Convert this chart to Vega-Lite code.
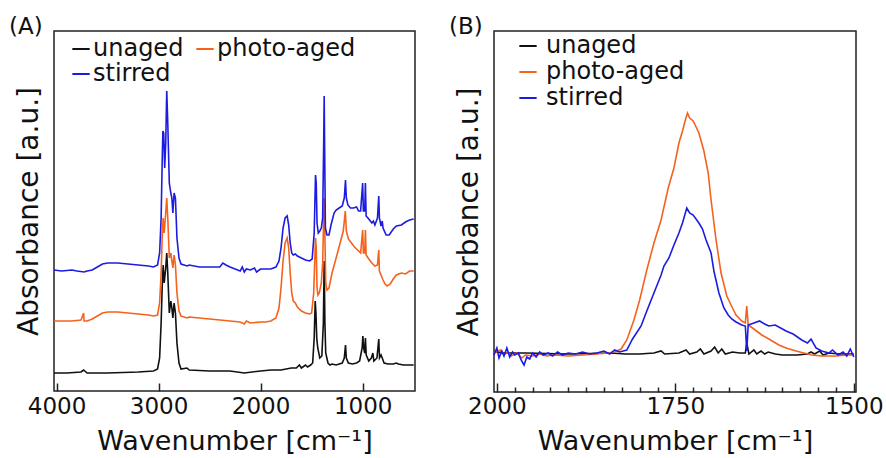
{
  "$schema": "https://vega.github.io/schema/vega-lite/v6.json",
  "padding": {"left": 8, "top": 15, "right": 5, "bottom": 0},
  "spacing": 30,
  "config": {
    "font": "DejaVu Sans",
    "view": {"stroke": "#222", "strokeWidth": 1.5},
    "axis": {"grid": false, "domain": false, "labelColor": "#111", "titleColor": "#111", "titleFontWeight": "normal", "tickColor": "#222"},
    "title": {"fontWeight": "normal", "color": "#111"},
    "legend": {"labelColor": "#111"}
  },
  "resolve": {"scale": {"color": "independent", "x": "independent", "y": "independent"}, "legend": {"color": "independent"}},
  "hconcat": [
    {
      "title": {"text": "(A)", "anchor": "start", "frame": "group", "dx": -45, "offset": -26, "baseline": "alphabetic", "fontSize": 23},
      "width": 361, "height": 360,
      "data": {"name": "A"},
      "mark": {"type": "line", "strokeWidth": 1.6},
      "encoding": {
        "x": {"field": "w", "type": "quantitative", "scale": {"domain": [487, 4025], "reverse": true, "nice": false, "zero": false},
          "axis": {"values": [4000, 3000, 2000, 1000], "format": "d", "tickSize": -8, "tickWidth": 1.5, "labelFontSize": 23, "labelPadding": 12, "title": "Wavenumber [cm⁻¹]", "titleFontSize": 27, "titlePadding": 10}},
        "y": {"field": "a", "type": "quantitative", "scale": {"domain": [0, 360], "nice": false, "zero": false},
          "axis": {"labels": false, "ticks": false, "title": "Absorbance [a.u.]", "titleFontSize": 28, "titlePadding": 11}},
        "color": {"field": "s", "type": "nominal", "sort": null,
          "scale": {"domain": ["unaged", "photo-aged", "stirred"], "range": ["#111111", "#f5621e", "#1c1ce0"]},
          "legend": {"orient": "none", "direction": "horizontal", "legendX": 15, "legendY": 6, "columns": 2, "title": null, "symbolType": "stroke", "symbolSize": 300, "symbolStrokeWidth": 2, "labelFontSize": 24, "labelOffset": 0, "columnPadding": 8, "rowPadding": 1, "labelLimit": 300}}
      }
    },
    {
      "title": {"text": "(B)", "anchor": "start", "frame": "group", "dx": -45, "offset": -26, "baseline": "alphabetic", "fontSize": 23},
      "width": 362, "height": 361,
      "data": {"name": "B"},
      "mark": {"type": "line", "strokeWidth": 1.6},
      "encoding": {
        "x": {"field": "w", "type": "quantitative", "scale": {"domain": [1497, 2004], "reverse": true, "nice": false, "zero": false},
          "axis": {"values": [2000, 1975, 1950, 1925, 1900, 1875, 1850, 1825, 1800, 1775, 1750, 1725, 1700, 1675, 1650, 1625, 1600, 1575, 1550, 1525, 1500],
            "format": "d",
            "labelExpr": "datum.value % 250 === 0 ? datum.label : ''",
            "tickSize": {"condition": {"test": "datum.value % 250 === 0", "value": -9}, "value": -5},
            "tickWidth": 1.5, "labelFontSize": 23, "labelPadding": 12, "title": "Wavenumber [cm⁻¹]", "titleFontSize": 27, "titlePadding": 10}},
        "y": {"field": "a", "type": "quantitative", "scale": {"domain": [0, 361], "nice": false, "zero": false},
          "axis": {"labels": false, "ticks": false, "title": "Absorbance [a.u.]", "titleFontSize": 28, "titlePadding": 11}},
        "color": {"field": "s", "type": "nominal", "sort": null,
          "scale": {"domain": ["unaged", "photo-aged", "stirred"], "range": ["#111111", "#f5621e", "#1c1ce0"]},
          "legend": {"orient": "none", "legendX": 22, "legendY": 3, "columns": 1, "title": null, "symbolType": "stroke", "symbolSize": 300, "symbolStrokeWidth": 2, "labelFontSize": 24, "labelOffset": 6, "rowPadding": 2, "labelLimit": 300}}
      }
    }
  ],
  "datasets": {
    "A": [
      {"s":"unaged","w":4025,"a":18},{"s":"unaged","w":3900,"a":18},{"s":"unaged","w":3760,"a":19},{"s":"unaged","w":3735,"a":21},{"s":"unaged","w":3700,"a":18},{"s":"unaged","w":3500,"a":18},{"s":"unaged","w":3200,"a":19},{"s":"unaged","w":3050,"a":20},{"s":"unaged","w":3010,"a":22},{"s":"unaged","w":2990,"a":33},{"s":"unaged","w":2975,"a":68},{"s":"unaged","w":2965,"a":103},{"s":"unaged","w":2955,"a":126},{"s":"unaged","w":2945,"a":108},{"s":"unaged","w":2930,"a":123},{"s":"unaged","w":2920,"a":138},{"s":"unaged","w":2910,"a":118},{"s":"unaged","w":2895,"a":78},{"s":"unaged","w":2880,"a":90},{"s":"unaged","w":2870,"a":83},{"s":"unaged","w":2860,"a":73},{"s":"unaged","w":2848,"a":88},{"s":"unaged","w":2835,"a":78},{"s":"unaged","w":2820,"a":48},{"s":"unaged","w":2800,"a":28},{"s":"unaged","w":2780,"a":22},{"s":"unaged","w":2722,"a":23},{"s":"unaged","w":2700,"a":21},{"s":"unaged","w":2500,"a":20},{"s":"unaged","w":2300,"a":20},{"s":"unaged","w":2160,"a":18},{"s":"unaged","w":2000,"a":20},{"s":"unaged","w":1900,"a":21},{"s":"unaged","w":1800,"a":21},{"s":"unaged","w":1700,"a":23},{"s":"unaged","w":1650,"a":23},{"s":"unaged","w":1620,"a":26},{"s":"unaged","w":1600,"a":23},{"s":"unaged","w":1560,"a":26},{"s":"unaged","w":1540,"a":24},{"s":"unaged","w":1510,"a":26},{"s":"unaged","w":1490,"a":28},{"s":"unaged","w":1475,"a":53},{"s":"unaged","w":1465,"a":90},{"s":"unaged","w":1458,"a":78},{"s":"unaged","w":1450,"a":53},{"s":"unaged","w":1440,"a":43},{"s":"unaged","w":1420,"a":33},{"s":"unaged","w":1400,"a":35},{"s":"unaged","w":1385,"a":68},{"s":"unaged","w":1377,"a":130},{"s":"unaged","w":1370,"a":68},{"s":"unaged","w":1362,"a":38},{"s":"unaged","w":1340,"a":28},{"s":"unaged","w":1320,"a":26},{"s":"unaged","w":1300,"a":27},{"s":"unaged","w":1260,"a":26},{"s":"unaged","w":1230,"a":27},{"s":"unaged","w":1200,"a":28},{"s":"unaged","w":1180,"a":33},{"s":"unaged","w":1168,"a":46},{"s":"unaged","w":1160,"a":33},{"s":"unaged","w":1140,"a":28},{"s":"unaged","w":1100,"a":27},{"s":"unaged","w":1060,"a":28},{"s":"unaged","w":1030,"a":30},{"s":"unaged","w":1005,"a":43},{"s":"unaged","w":998,"a":55},{"s":"unaged","w":990,"a":43},{"s":"unaged","w":980,"a":38},{"s":"unaged","w":973,"a":53},{"s":"unaged","w":965,"a":36},{"s":"unaged","w":940,"a":30},{"s":"unaged","w":915,"a":33},{"s":"unaged","w":900,"a":38},{"s":"unaged","w":890,"a":30},{"s":"unaged","w":860,"a":33},{"s":"unaged","w":842,"a":52},{"s":"unaged","w":835,"a":33},{"s":"unaged","w":820,"a":36},{"s":"unaged","w":808,"a":33},{"s":"unaged","w":790,"a":28},{"s":"unaged","w":750,"a":27},{"s":"unaged","w":700,"a":27},{"s":"unaged","w":670,"a":28},{"s":"unaged","w":650,"a":27},{"s":"unaged","w":600,"a":26},{"s":"unaged","w":500,"a":26},
      {"s":"photo-aged","w":4025,"a":70},{"s":"photo-aged","w":3950,"a":70},{"s":"photo-aged","w":3850,"a":70},{"s":"photo-aged","w":3760,"a":71},{"s":"photo-aged","w":3735,"a":78},{"s":"photo-aged","w":3730,"a":70},{"s":"photo-aged","w":3700,"a":70},{"s":"photo-aged","w":3650,"a":72},{"s":"photo-aged","w":3600,"a":75},{"s":"photo-aged","w":3550,"a":78},{"s":"photo-aged","w":3500,"a":79},{"s":"photo-aged","w":3400,"a":79},{"s":"photo-aged","w":3300,"a":78},{"s":"photo-aged","w":3200,"a":77},{"s":"photo-aged","w":3100,"a":76},{"s":"photo-aged","w":3050,"a":75},{"s":"photo-aged","w":3010,"a":76},{"s":"photo-aged","w":2990,"a":88},{"s":"photo-aged","w":2975,"a":118},{"s":"photo-aged","w":2965,"a":153},{"s":"photo-aged","w":2955,"a":173},{"s":"photo-aged","w":2945,"a":158},{"s":"photo-aged","w":2930,"a":178},{"s":"photo-aged","w":2920,"a":193},{"s":"photo-aged","w":2910,"a":173},{"s":"photo-aged","w":2895,"a":133},{"s":"photo-aged","w":2880,"a":138},{"s":"photo-aged","w":2870,"a":130},{"s":"photo-aged","w":2860,"a":123},{"s":"photo-aged","w":2848,"a":136},{"s":"photo-aged","w":2835,"a":126},{"s":"photo-aged","w":2820,"a":98},{"s":"photo-aged","w":2800,"a":80},{"s":"photo-aged","w":2780,"a":75},{"s":"photo-aged","w":2720,"a":73},{"s":"photo-aged","w":2700,"a":74},{"s":"photo-aged","w":2600,"a":73},{"s":"photo-aged","w":2500,"a":72},{"s":"photo-aged","w":2400,"a":71},{"s":"photo-aged","w":2300,"a":70},{"s":"photo-aged","w":2200,"a":69},{"s":"photo-aged","w":2160,"a":67},{"s":"photo-aged","w":2140,"a":70},{"s":"photo-aged","w":2100,"a":68},{"s":"photo-aged","w":2000,"a":69},{"s":"photo-aged","w":1950,"a":69},{"s":"photo-aged","w":1900,"a":70},{"s":"photo-aged","w":1850,"a":73},{"s":"photo-aged","w":1820,"a":83},{"s":"photo-aged","w":1800,"a":103},{"s":"photo-aged","w":1780,"a":130},{"s":"photo-aged","w":1760,"a":148},{"s":"photo-aged","w":1740,"a":153},{"s":"photo-aged","w":1725,"a":143},{"s":"photo-aged","w":1710,"a":118},{"s":"photo-aged","w":1695,"a":98},{"s":"photo-aged","w":1680,"a":90},{"s":"photo-aged","w":1660,"a":88},{"s":"photo-aged","w":1640,"a":84},{"s":"photo-aged","w":1600,"a":80},{"s":"photo-aged","w":1560,"a":78},{"s":"photo-aged","w":1520,"a":77},{"s":"photo-aged","w":1500,"a":78},{"s":"photo-aged","w":1480,"a":98},{"s":"photo-aged","w":1462,"a":153},{"s":"photo-aged","w":1455,"a":143},{"s":"photo-aged","w":1447,"a":103},{"s":"photo-aged","w":1438,"a":96},{"s":"photo-aged","w":1425,"a":98},{"s":"photo-aged","w":1405,"a":108},{"s":"photo-aged","w":1392,"a":128},{"s":"photo-aged","w":1382,"a":173},{"s":"photo-aged","w":1377,"a":193},{"s":"photo-aged","w":1372,"a":168},{"s":"photo-aged","w":1362,"a":108},{"s":"photo-aged","w":1350,"a":101},{"s":"photo-aged","w":1330,"a":103},{"s":"photo-aged","w":1300,"a":118},{"s":"photo-aged","w":1260,"a":133},{"s":"photo-aged","w":1221,"a":148},{"s":"photo-aged","w":1190,"a":160},{"s":"photo-aged","w":1170,"a":180},{"s":"photo-aged","w":1160,"a":160},{"s":"photo-aged","w":1140,"a":152},{"s":"photo-aged","w":1110,"a":148},{"s":"photo-aged","w":1080,"a":144},{"s":"photo-aged","w":1050,"a":141},{"s":"photo-aged","w":1020,"a":138},{"s":"photo-aged","w":1000,"a":161},{"s":"photo-aged","w":993,"a":138},{"s":"photo-aged","w":980,"a":138},{"s":"photo-aged","w":973,"a":161},{"s":"photo-aged","w":966,"a":136},{"s":"photo-aged","w":940,"a":132},{"s":"photo-aged","w":910,"a":128},{"s":"photo-aged","w":880,"a":125},{"s":"photo-aged","w":855,"a":126},{"s":"photo-aged","w":842,"a":141},{"s":"photo-aged","w":836,"a":120},{"s":"photo-aged","w":820,"a":116},{"s":"photo-aged","w":800,"a":111},{"s":"photo-aged","w":780,"a":107},{"s":"photo-aged","w":760,"a":105},{"s":"photo-aged","w":730,"a":107},{"s":"photo-aged","w":700,"a":112},{"s":"photo-aged","w":670,"a":116},{"s":"photo-aged","w":620,"a":118},{"s":"photo-aged","w":580,"a":117},{"s":"photo-aged","w":540,"a":120},{"s":"photo-aged","w":500,"a":120},
      {"s":"stirred","w":4025,"a":121},{"s":"stirred","w":3950,"a":120},{"s":"stirred","w":3850,"a":121},{"s":"stirred","w":3800,"a":120},{"s":"stirred","w":3730,"a":119},{"s":"stirred","w":3700,"a":120},{"s":"stirred","w":3650,"a":121},{"s":"stirred","w":3600,"a":124},{"s":"stirred","w":3550,"a":127},{"s":"stirred","w":3500,"a":128},{"s":"stirred","w":3400,"a":128},{"s":"stirred","w":3300,"a":127},{"s":"stirred","w":3200,"a":126},{"s":"stirred","w":3100,"a":125},{"s":"stirred","w":3050,"a":124},{"s":"stirred","w":3010,"a":126},{"s":"stirred","w":2990,"a":138},{"s":"stirred","w":2975,"a":173},{"s":"stirred","w":2965,"a":228},{"s":"stirred","w":2958,"a":260},{"s":"stirred","w":2950,"a":258},{"s":"stirred","w":2940,"a":223},{"s":"stirred","w":2930,"a":248},{"s":"stirred","w":2920,"a":300},{"s":"stirred","w":2910,"a":268},{"s":"stirred","w":2895,"a":208},{"s":"stirred","w":2880,"a":198},{"s":"stirred","w":2870,"a":193},{"s":"stirred","w":2860,"a":178},{"s":"stirred","w":2848,"a":198},{"s":"stirred","w":2835,"a":193},{"s":"stirred","w":2820,"a":153},{"s":"stirred","w":2800,"a":133},{"s":"stirred","w":2780,"a":127},{"s":"stirred","w":2720,"a":125},{"s":"stirred","w":2700,"a":126},{"s":"stirred","w":2600,"a":124},{"s":"stirred","w":2500,"a":124},{"s":"stirred","w":2400,"a":124},{"s":"stirred","w":2370,"a":128},{"s":"stirred","w":2340,"a":126},{"s":"stirred","w":2300,"a":124},{"s":"stirred","w":2250,"a":122},{"s":"stirred","w":2200,"a":120},{"s":"stirred","w":2180,"a":124},{"s":"stirred","w":2160,"a":119},{"s":"stirred","w":2140,"a":122},{"s":"stirred","w":2100,"a":121},{"s":"stirred","w":2060,"a":123},{"s":"stirred","w":2040,"a":119},{"s":"stirred","w":2000,"a":122},{"s":"stirred","w":1950,"a":122},{"s":"stirred","w":1900,"a":122},{"s":"stirred","w":1850,"a":124},{"s":"stirred","w":1820,"a":130},{"s":"stirred","w":1800,"a":143},{"s":"stirred","w":1780,"a":163},{"s":"stirred","w":1760,"a":173},{"s":"stirred","w":1740,"a":175},{"s":"stirred","w":1725,"a":166},{"s":"stirred","w":1710,"a":148},{"s":"stirred","w":1695,"a":138},{"s":"stirred","w":1680,"a":136},{"s":"stirred","w":1660,"a":137},{"s":"stirred","w":1640,"a":135},{"s":"stirred","w":1600,"a":133},{"s":"stirred","w":1560,"a":131},{"s":"stirred","w":1520,"a":130},{"s":"stirred","w":1495,"a":132},{"s":"stirred","w":1475,"a":158},{"s":"stirred","w":1462,"a":216},{"s":"stirred","w":1455,"a":208},{"s":"stirred","w":1447,"a":168},{"s":"stirred","w":1435,"a":158},{"s":"stirred","w":1420,"a":160},{"s":"stirred","w":1405,"a":163},{"s":"stirred","w":1392,"a":173},{"s":"stirred","w":1382,"a":248},{"s":"stirred","w":1377,"a":295},{"s":"stirred","w":1372,"a":238},{"s":"stirred","w":1365,"a":163},{"s":"stirred","w":1350,"a":156},{"s":"stirred","w":1330,"a":156},{"s":"stirred","w":1310,"a":166},{"s":"stirred","w":1280,"a":178},{"s":"stirred","w":1260,"a":181},{"s":"stirred","w":1230,"a":183},{"s":"stirred","w":1200,"a":185},{"s":"stirred","w":1180,"a":193},{"s":"stirred","w":1168,"a":211},{"s":"stirred","w":1160,"a":193},{"s":"stirred","w":1145,"a":186},{"s":"stirred","w":1120,"a":183},{"s":"stirred","w":1090,"a":183},{"s":"stirred","w":1060,"a":184},{"s":"stirred","w":1040,"a":180},{"s":"stirred","w":1020,"a":180},{"s":"stirred","w":1000,"a":208},{"s":"stirred","w":993,"a":180},{"s":"stirred","w":980,"a":180},{"s":"stirred","w":973,"a":208},{"s":"stirred","w":966,"a":175},{"s":"stirred","w":940,"a":172},{"s":"stirred","w":910,"a":168},{"s":"stirred","w":895,"a":170},{"s":"stirred","w":880,"a":166},{"s":"stirred","w":855,"a":173},{"s":"stirred","w":842,"a":195},{"s":"stirred","w":836,"a":173},{"s":"stirred","w":820,"a":165},{"s":"stirred","w":808,"a":170},{"s":"stirred","w":800,"a":163},{"s":"stirred","w":770,"a":156},{"s":"stirred","w":740,"a":156},{"s":"stirred","w":700,"a":162},{"s":"stirred","w":670,"a":165},{"s":"stirred","w":620,"a":166},{"s":"stirred","w":580,"a":169},{"s":"stirred","w":540,"a":171},{"s":"stirred","w":500,"a":172}
    ],
    "B": [
      {"s":"unaged","w":2004,"a":40},{"s":"unaged","w":1990,"a":39},{"s":"unaged","w":1960,"a":39},{"s":"unaged","w":1900,"a":38},{"s":"unaged","w":1840,"a":39},{"s":"unaged","w":1820,"a":38},{"s":"unaged","w":1800,"a":38},{"s":"unaged","w":1780,"a":39},{"s":"unaged","w":1770,"a":41},{"s":"unaged","w":1765,"a":38},{"s":"unaged","w":1745,"a":39},{"s":"unaged","w":1735,"a":42},{"s":"unaged","w":1730,"a":38},{"s":"unaged","w":1720,"a":40},{"s":"unaged","w":1715,"a":43},{"s":"unaged","w":1710,"a":38},{"s":"unaged","w":1700,"a":41},{"s":"unaged","w":1695,"a":45},{"s":"unaged","w":1690,"a":39},{"s":"unaged","w":1685,"a":43},{"s":"unaged","w":1680,"a":38},{"s":"unaged","w":1670,"a":40},{"s":"unaged","w":1660,"a":39},{"s":"unaged","w":1652,"a":39},{"s":"unaged","w":1650,"a":49},{"s":"unaged","w":1647,"a":38},{"s":"unaged","w":1640,"a":42},{"s":"unaged","w":1636,"a":38},{"s":"unaged","w":1630,"a":41},{"s":"unaged","w":1625,"a":38},{"s":"unaged","w":1620,"a":40},{"s":"unaged","w":1610,"a":38},{"s":"unaged","w":1600,"a":37},{"s":"unaged","w":1580,"a":37},{"s":"unaged","w":1565,"a":38},{"s":"unaged","w":1560,"a":40},{"s":"unaged","w":1555,"a":38},{"s":"unaged","w":1548,"a":41},{"s":"unaged","w":1543,"a":37},{"s":"unaged","w":1535,"a":39},{"s":"unaged","w":1520,"a":38},{"s":"unaged","w":1500,"a":38},
      {"s":"photo-aged","w":2004,"a":39},{"s":"photo-aged","w":1995,"a":42},{"s":"photo-aged","w":1990,"a":37},{"s":"photo-aged","w":1985,"a":40},{"s":"photo-aged","w":1980,"a":36},{"s":"photo-aged","w":1972,"a":39},{"s":"photo-aged","w":1965,"a":34},{"s":"photo-aged","w":1960,"a":37},{"s":"photo-aged","w":1950,"a":36},{"s":"photo-aged","w":1940,"a":38},{"s":"photo-aged","w":1930,"a":36},{"s":"photo-aged","w":1920,"a":37},{"s":"photo-aged","w":1900,"a":36},{"s":"photo-aged","w":1880,"a":37},{"s":"photo-aged","w":1860,"a":38},{"s":"photo-aged","w":1845,"a":39},{"s":"photo-aged","w":1835,"a":40},{"s":"photo-aged","w":1826,"a":43},{"s":"photo-aged","w":1818,"a":52},{"s":"photo-aged","w":1808,"a":72},{"s":"photo-aged","w":1800,"a":92},{"s":"photo-aged","w":1790,"a":122},{"s":"photo-aged","w":1780,"a":149},{"s":"photo-aged","w":1770,"a":172},{"s":"photo-aged","w":1760,"a":204},{"s":"photo-aged","w":1752,"a":224},{"s":"photo-aged","w":1745,"a":249},{"s":"photo-aged","w":1740,"a":261},{"s":"photo-aged","w":1736,"a":272},{"s":"photo-aged","w":1733,"a":279},{"s":"photo-aged","w":1730,"a":274},{"s":"photo-aged","w":1725,"a":271},{"s":"photo-aged","w":1717,"a":259},{"s":"photo-aged","w":1710,"a":241},{"s":"photo-aged","w":1704,"a":219},{"s":"photo-aged","w":1700,"a":192},{"s":"photo-aged","w":1693,"a":152},{"s":"photo-aged","w":1686,"a":119},{"s":"photo-aged","w":1678,"a":96},{"s":"photo-aged","w":1670,"a":84},{"s":"photo-aged","w":1665,"a":77},{"s":"photo-aged","w":1657,"a":71},{"s":"photo-aged","w":1652,"a":69},{"s":"photo-aged","w":1650,"a":86},{"s":"photo-aged","w":1648,"a":67},{"s":"photo-aged","w":1640,"a":63},{"s":"photo-aged","w":1629,"a":57},{"s":"photo-aged","w":1619,"a":53},{"s":"photo-aged","w":1605,"a":47},{"s":"photo-aged","w":1595,"a":44},{"s":"photo-aged","w":1581,"a":41},{"s":"photo-aged","w":1570,"a":39},{"s":"photo-aged","w":1559,"a":37},{"s":"photo-aged","w":1545,"a":36},{"s":"photo-aged","w":1525,"a":36},{"s":"photo-aged","w":1510,"a":37},{"s":"photo-aged","w":1500,"a":37},
      {"s":"stirred","w":2004,"a":37},{"s":"stirred","w":2000,"a":44},{"s":"stirred","w":1997,"a":34},{"s":"stirred","w":1993,"a":41},{"s":"stirred","w":1990,"a":36},{"s":"stirred","w":1986,"a":44},{"s":"stirred","w":1982,"a":35},{"s":"stirred","w":1978,"a":40},{"s":"stirred","w":1975,"a":37},{"s":"stirred","w":1970,"a":39},{"s":"stirred","w":1966,"a":32},{"s":"stirred","w":1962,"a":27},{"s":"stirred","w":1958,"a":35},{"s":"stirred","w":1954,"a":33},{"s":"stirred","w":1950,"a":39},{"s":"stirred","w":1945,"a":35},{"s":"stirred","w":1940,"a":40},{"s":"stirred","w":1935,"a":37},{"s":"stirred","w":1928,"a":39},{"s":"stirred","w":1922,"a":36},{"s":"stirred","w":1915,"a":40},{"s":"stirred","w":1908,"a":37},{"s":"stirred","w":1900,"a":39},{"s":"stirred","w":1890,"a":38},{"s":"stirred","w":1880,"a":40},{"s":"stirred","w":1870,"a":38},{"s":"stirred","w":1860,"a":39},{"s":"stirred","w":1850,"a":41},{"s":"stirred","w":1842,"a":38},{"s":"stirred","w":1835,"a":42},{"s":"stirred","w":1828,"a":40},{"s":"stirred","w":1818,"a":42},{"s":"stirred","w":1810,"a":53},{"s":"stirred","w":1798,"a":66},{"s":"stirred","w":1790,"a":81},{"s":"stirred","w":1780,"a":99},{"s":"stirred","w":1770,"a":117},{"s":"stirred","w":1766,"a":126},{"s":"stirred","w":1759,"a":134},{"s":"stirred","w":1752,"a":147},{"s":"stirred","w":1745,"a":159},{"s":"stirred","w":1740,"a":169},{"s":"stirred","w":1734,"a":184},{"s":"stirred","w":1730,"a":179},{"s":"stirred","w":1725,"a":177},{"s":"stirred","w":1717,"a":169},{"s":"stirred","w":1712,"a":163},{"s":"stirred","w":1707,"a":152},{"s":"stirred","w":1700,"a":139},{"s":"stirred","w":1696,"a":121},{"s":"stirred","w":1689,"a":99},{"s":"stirred","w":1682,"a":84},{"s":"stirred","w":1676,"a":77},{"s":"stirred","w":1671,"a":73},{"s":"stirred","w":1665,"a":70},{"s":"stirred","w":1657,"a":67},{"s":"stirred","w":1652,"a":66},{"s":"stirred","w":1650,"a":41},{"s":"stirred","w":1648,"a":67},{"s":"stirred","w":1640,"a":69},{"s":"stirred","w":1632,"a":71},{"s":"stirred","w":1625,"a":68},{"s":"stirred","w":1619,"a":66},{"s":"stirred","w":1610,"a":67},{"s":"stirred","w":1600,"a":63},{"s":"stirred","w":1595,"a":61},{"s":"stirred","w":1585,"a":58},{"s":"stirred","w":1573,"a":52},{"s":"stirred","w":1565,"a":49},{"s":"stirred","w":1560,"a":53},{"s":"stirred","w":1553,"a":44},{"s":"stirred","w":1545,"a":41},{"s":"stirred","w":1535,"a":39},{"s":"stirred","w":1530,"a":42},{"s":"stirred","w":1522,"a":37},{"s":"stirred","w":1515,"a":40},{"s":"stirred","w":1510,"a":36},{"s":"stirred","w":1505,"a":43},{"s":"stirred","w":1500,"a":35}
    ]
  }
}
